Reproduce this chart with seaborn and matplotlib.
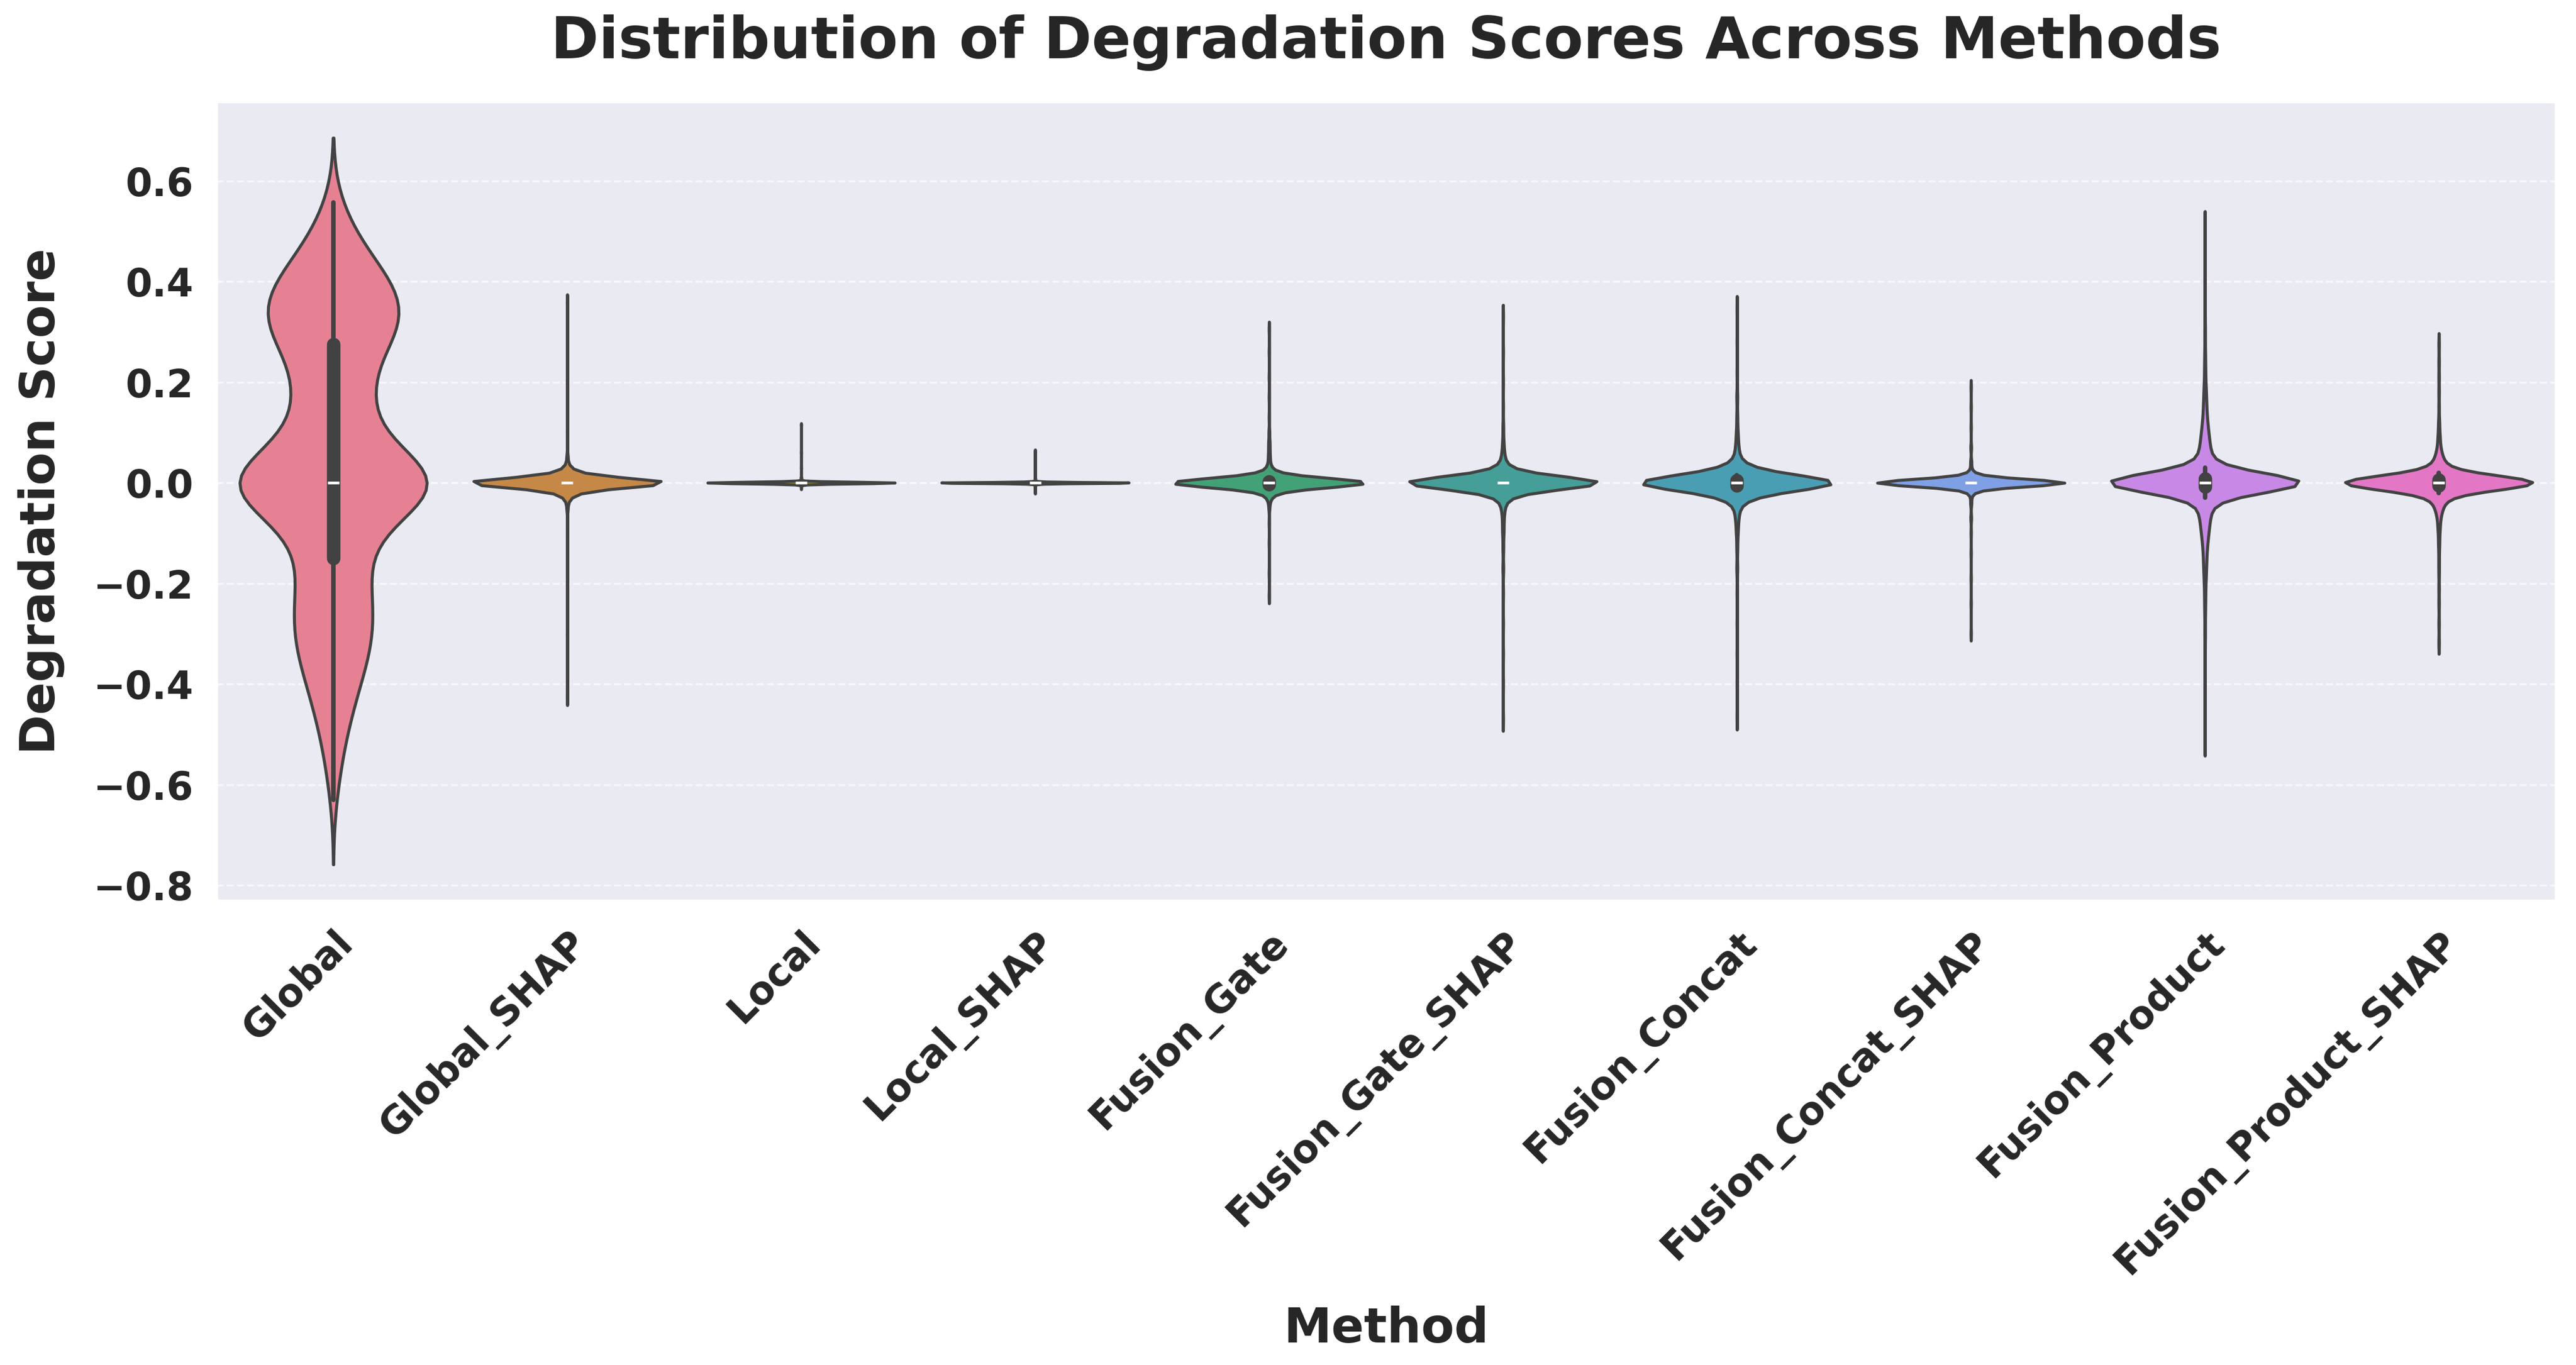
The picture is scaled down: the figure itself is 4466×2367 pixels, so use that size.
import numpy as np
import pandas as pd
import matplotlib
matplotlib.use("Agg")
import matplotlib.pyplot as plt
import seaborn as sns

# ────────────────────────────────────────────────────────────────────────────
# Data: degradation scores per method, stored as (value, count) tables
# ────────────────────────────────────────────────────────────────────────────
methods = ["Global", "Global_SHAP", "Local", "Local_SHAP", "Fusion_Gate",
           "Fusion_Gate_SHAP", "Fusion_Concat", "Fusion_Concat_SHAP",
           "Fusion_Product", "Fusion_Product_SHAP"]

global_vals = [-0.63, -0.60, -0.55, -0.50, -0.45, -0.40, -0.35, -0.30, -0.25,
               -0.20, -0.15, -0.10, -0.05, 0.00, 0.05, 0.10, 0.15, 0.20,
               0.275, 0.325, 0.375, 0.425, 0.475, 0.52, 0.557]
global_counts = [2, 6, 10, 16, 24, 32, 44, 52, 50, 44, 40, 44, 80, 220, 70, 44,
                 44, 60, 80, 96, 90, 60, 30, 16, 6]

global_shap_vals = [-0.425, -0.30, -0.20, -0.10, -0.05, -0.03, -0.02, -0.01,
                    0.0, 0.01, 0.02, 0.03, 0.05, 0.10, 0.20, 0.357]
global_shap_counts = [1, 1, 1, 1, 3, 8, 20, 60, 400, 60, 20, 8, 3, 1, 1, 1]

local_vals = [-0.01, -0.003, -0.001, 0.0, 0.001, 0.003, 0.01, 0.03, 0.06, 0.115]
local_counts = [1, 5, 40, 500, 40, 5, 2, 1, 1, 1]

local_shap_vals = [-0.02, -0.008, -0.002, 0.0, 0.002, 0.008, 0.03, 0.064]
local_shap_counts = [1, 1, 30, 520, 30, 2, 1, 1]

gate_vals = [-0.225, -0.18, -0.12, -0.08, -0.05, -0.035, -0.025, -0.015,
             -0.008, -0.003, 0.0, 0.003, 0.008, 0.015, 0.025, 0.035, 0.05,
             0.065, 0.08, 0.10, 0.13, 0.17, 0.21, 0.26, 0.305]
gate_counts = [1, 1, 1, 1, 2, 4, 10, 30, 80, 130, 110, 130, 80, 30, 10, 5, 4,
               3, 3, 2, 1, 1, 1, 1, 1]

gate_shap_vals = [-0.47, -0.40, -0.34, -0.28, -0.22, -0.17, -0.13, -0.10,
                  -0.08, -0.06, -0.045, -0.03, -0.02, -0.01, 0.0, 0.01, 0.02,
                  0.03, 0.045, 0.06, 0.08, 0.11, 0.15, 0.20, 0.26, 0.33]
gate_shap_counts = [1, 1, 1, 1, 1, 2, 2, 3, 3, 4, 6, 12, 25, 60, 400, 60, 25,
                    12, 6, 4, 3, 2, 1, 1, 1, 1]

concat_vals = [-0.465, -0.40, -0.34, -0.28, -0.22, -0.17, -0.13, -0.10, -0.08,
               -0.065, -0.05, -0.035, -0.025, -0.015, -0.005, 0.0, 0.005,
               0.015, 0.025, 0.035, 0.05, 0.065, 0.08, 0.10, 0.13, 0.17,
               0.22, 0.28, 0.345]
concat_counts = [1, 1, 1, 1, 1, 2, 2, 3, 3, 4, 6, 12, 25, 60, 110, 140, 110,
                 60, 25, 12, 6, 4, 3, 3, 2, 2, 1, 1, 1]

concat_shap_vals = [-0.30, -0.24, -0.19, -0.14, -0.10, -0.07, -0.04, -0.02,
                    -0.01, 0.0, 0.01, 0.02, 0.04, 0.07, 0.11, 0.15, 0.19]
concat_shap_counts = [1, 1, 1, 1, 1, 2, 3, 8, 30, 450, 30, 8, 3, 2, 1, 1, 1]

product_vals = [-0.508, -0.45, -0.39, -0.34, -0.30, -0.26, -0.23, -0.20,
                -0.18, -0.16, -0.14, -0.12, -0.105, -0.09, -0.075, -0.06,
                -0.045, -0.03, -0.018, -0.008, 0.0, 0.008, 0.018, 0.03, 0.045,
                0.06, 0.075, 0.09, 0.105, 0.12, 0.14, 0.16, 0.18, 0.20, 0.23,
                0.26, 0.30, 0.34, 0.39, 0.44, 0.505]
product_counts = [1, 1, 1, 1, 2, 2, 3, 3, 4, 5, 6, 7, 8, 10, 12, 14, 18, 24,
                  35, 180, 260, 180, 35, 24, 18, 14, 12, 10, 8, 7, 6, 5, 4, 3,
                  3, 2, 2, 1, 1, 1, 1]

product_shap_vals = [-0.318, -0.28, -0.24, -0.21, -0.18, -0.16, -0.14, -0.12,
                     -0.10, -0.085, -0.07, -0.06, -0.05, -0.04, -0.03, -0.02,
                     -0.012, -0.006, 0.0, 0.006, 0.012, 0.02, 0.03, 0.04, 0.05,
                     0.06, 0.07, 0.085, 0.10, 0.12, 0.15, 0.18, 0.21, 0.24,
                     0.275]
product_shap_counts = [1, 1, 1, 1, 1, 1, 1, 2, 2, 3, 3, 4, 6, 9, 14, 25, 60,
                       100, 120, 100, 60, 25, 14, 9, 6, 4, 3, 3, 2, 2, 1, 1, 1,
                       1, 1]

tables = [(global_vals, global_counts), (global_shap_vals, global_shap_counts),
          (local_vals, local_counts), (local_shap_vals, local_shap_counts),
          (gate_vals, gate_counts), (gate_shap_vals, gate_shap_counts),
          (concat_vals, concat_counts), (concat_shap_vals, concat_shap_counts),
          (product_vals, product_counts),
          (product_shap_vals, product_shap_counts)]

# Long-format table for seaborn
frames = []
for name, (vals, counts) in zip(methods, tables):
    scores = np.repeat(vals, counts)
    frames.append(pd.DataFrame({"Method": name, "Degradation Score": scores}))
df = pd.concat(frames, ignore_index=True)

# ────────────────────────────────────────────────────────────────────────────
# Plot
# ────────────────────────────────────────────────────────────────────────────
sns.set_theme(style="darkgrid")
plt.rcParams["font.family"] = ["DejaVu Sans"]
plt.rcParams["font.weight"] = "bold"

fig, ax = plt.subplots(figsize=(4466 / 300, 2367 / 300), dpi=300)
fig.subplots_adjust(left=375 / 4466, right=4431 / 4466,
                    top=1 - 176 / 2367, bottom=1 - 1562 / 2367)

sns.violinplot(data=df, x="Method", y="Degradation Score", hue="Method",
               order=methods, hue_order=methods, palette="husl",
               inner="box", density_norm="width", legend=False, ax=ax)

ax.xaxis.grid(False)
ax.yaxis.grid(True, linestyle="--", linewidth=0.8, alpha=0.7)

ax.set_title("Distribution of Degradation Scores Across Methods",
             fontsize=24, fontweight="bold", pad=18)
ax.set_xlabel("Method", fontsize=20, fontweight="bold", labelpad=10)
ax.set_ylabel("Degradation Score", fontsize=20, fontweight="bold", labelpad=12)

plt.setp(ax.get_xticklabels(), rotation=45, ha="right", rotation_mode="anchor",
         fontsize=16, fontweight="bold")
plt.setp(ax.get_yticklabels(), fontsize=16, fontweight="bold")

fig.savefig("out.png", dpi=300)
plt.close(fig)
